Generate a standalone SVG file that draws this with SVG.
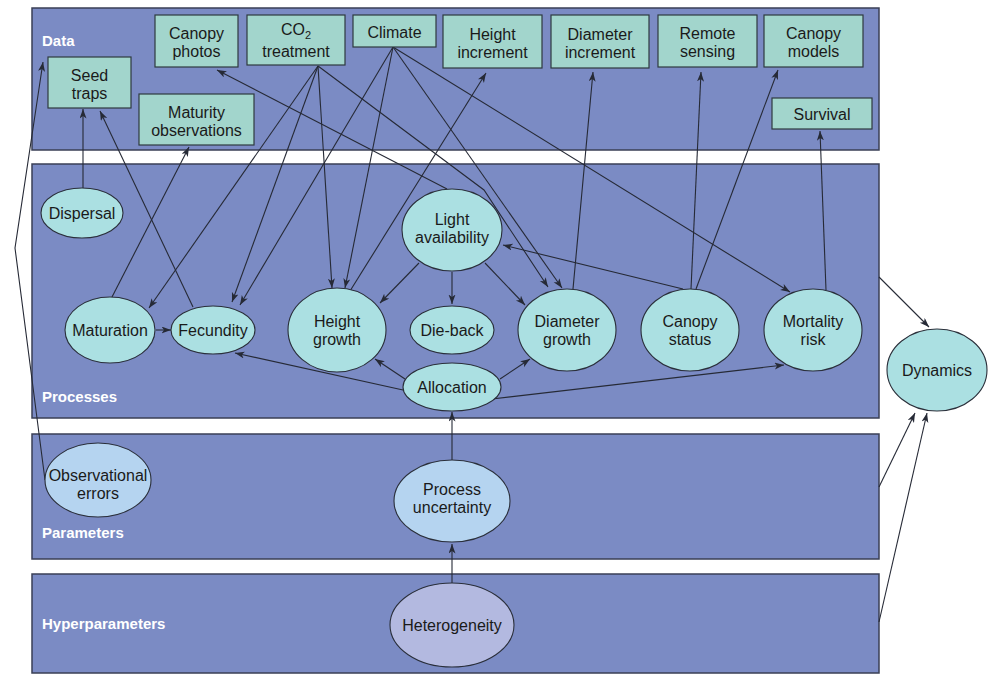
<svg xmlns="http://www.w3.org/2000/svg" width="1004" height="678" viewBox="0 0 1004 678">
<style>
.panel{fill:#7b8bc4;stroke:#3a3f55;stroke-width:1.5}
.plabel{font-family:"Liberation Sans",Arial,sans-serif;font-size:15px;font-weight:bold;fill:#ffffff}
.box{fill:#a2d5cc;stroke:#2e3a3e;stroke-width:1.2}
.ell{fill:#abe0e2;stroke:#2a2f3a;stroke-width:1.1}
.ellp{fill:#b5d4f0;stroke:#2a2f3a;stroke-width:1.1}
.ellh{fill:#b3b9e0;stroke:#2a2f3a;stroke-width:1.1}
.t{font-family:"Liberation Sans",Arial,sans-serif;font-size:16px;fill:#1a1a1a;text-anchor:middle}
.c{fill:none;stroke:#262a36;stroke-width:1.1;marker-end:url(#ah)}
</style>
<defs>
<marker id="ah" markerUnits="userSpaceOnUse" markerWidth="11" markerHeight="8" refX="9.5" refY="3.5" orient="auto">
<path d="M0,0 L9.5,3.5 L0,7 L2.5,3.5 z" fill="#262a36"/>
</marker>
</defs>
<rect width="1004" height="678" fill="#ffffff"/>
<g id="panels">
<rect class="panel" x="32" y="8" width="847" height="142"/>
<rect class="panel" x="32" y="164" width="847" height="254"/>
<rect class="panel" x="32" y="434" width="847" height="125"/>
<rect class="panel" x="32" y="574" width="847" height="99"/>
<text class="plabel" x="42" y="46">Data</text>
<text class="plabel" x="42" y="402">Processes</text>
<text class="plabel" x="42" y="538">Parameters</text>
<text class="plabel" x="42" y="629">Hyperparameters</text>
</g>
<g id="connectors">
<path class="c" d="M83,188 L83,109"/>
<path class="c" d="M193,307 L100,111"/>
<path class="c" d="M112,297 L189,147"/>
<path class="c" d="M318,66 L149,308"/>
<path class="c" d="M318,66 L232,302"/>
<path class="c" d="M318,66 L332,288"/>
<path class="c" d="M318,66 L484,190 L548,287"/>
<path class="c" d="M393,47 L240,305"/>
<path class="c" d="M393,47 L345,288"/>
<path class="c" d="M393,47 L562,288"/>
<path class="c" d="M393,47 L790,292"/>
<path class="c" d="M350,291 L486,73"/>
<path class="c" d="M447,189 L217,70"/>
<path class="c" d="M419,263 L380,303"/>
<path class="c" d="M452,272 L452,304"/>
<path class="c" d="M485,263 L525,305"/>
<path class="c" d="M683,289 L503,245"/>
<path class="c" d="M691,289 L701,72"/>
<path class="c" d="M696,289 L778,70"/>
<path class="c" d="M826,290 L820,131"/>
<path class="c" d="M573,289 L593,72"/>
<path class="c" d="M405,379 L375,359"/>
<path class="c" d="M500,379 L530,359"/>
<path class="c" d="M403,390 L235,353"/>
<path class="c" d="M492,399 L784,365"/>
<path class="c" d="M156,330 L171,330"/>
<path class="c" d="M452,460 L452,412"/>
<path class="c" d="M452,583 L452,544"/>
<path class="c" d="M45,480 L15,248 L43,62"/>
<path class="c" d="M879,277 L929,327"/>
<path class="c" d="M879,487 L915,413"/>
<path class="c" d="M879,622 L927,413"/>
</g>
<g id="seed-traps"><rect class="box" x="48" y="57" width="83" height="51"/><text class="t" x="89.5" y="80.5">Seed</text><text class="t" x="89.5" y="98.5">traps</text></g>
<g id="maturity-observations"><rect class="box" x="139" y="94" width="115" height="51"/><text class="t" x="196.5" y="117.5">Maturity</text><text class="t" x="196.5" y="135.5">observations</text></g>
<g id="canopy-photos"><rect class="box" x="155" y="15" width="83" height="52"/><text class="t" x="196.5" y="39">Canopy</text><text class="t" x="196.5" y="57">photos</text></g>
<g id="co2-treatment"><rect class="box" x="247" y="15" width="98" height="50"/><text class="t" x="296" y="35">CO<tspan dy="3.5" font-size="11">2</tspan></text><text class="t" x="296" y="57">treatment</text></g>
<g id="climate"><rect class="box" x="353" y="15" width="83" height="32"/><text class="t" x="394.5" y="38">Climate</text></g>
<g id="height-increment"><rect class="box" x="443" y="15" width="99" height="53"/><text class="t" x="492.5" y="39.5">Height</text><text class="t" x="492.5" y="57.5">increment</text></g>
<g id="diameter-increment"><rect class="box" x="551" y="15" width="98" height="53"/><text class="t" x="600" y="39.5">Diameter</text><text class="t" x="600" y="57.5">increment</text></g>
<g id="remote-sensing"><rect class="box" x="658" y="15" width="99" height="52"/><text class="t" x="707.5" y="39">Remote</text><text class="t" x="707.5" y="57">sensing</text></g>
<g id="canopy-models"><rect class="box" x="764" y="15" width="99" height="52"/><text class="t" x="813.5" y="39">Canopy</text><text class="t" x="813.5" y="57">models</text></g>
<g id="survival"><rect class="box" x="772" y="98" width="100" height="31"/><text class="t" x="822" y="119.5">Survival</text></g>
<g id="dispersal"><ellipse class="ell" cx="82" cy="213" rx="41" ry="25"/><text class="t" x="82" y="219">Dispersal</text></g>
<g id="maturation"><ellipse class="ell" cx="110" cy="330" rx="45" ry="33"/><text class="t" x="110" y="336">Maturation</text></g>
<g id="fecundity"><ellipse class="ell" cx="213" cy="330" rx="42" ry="24"/><text class="t" x="213" y="336">Fecundity</text></g>
<g id="height-growth"><ellipse class="ell" cx="337" cy="330" rx="49" ry="42"/><text class="t" x="337" y="327">Height</text><text class="t" x="337" y="345">growth</text></g>
<g id="light-availability"><ellipse class="ell" cx="452" cy="230" rx="50" ry="41"/><text class="t" x="452" y="225">Light</text><text class="t" x="452" y="243">availability</text></g>
<g id="die-back"><ellipse class="ell" cx="452" cy="330" rx="42" ry="24"/><text class="t" x="452" y="336">Die-back</text></g>
<g id="diameter-growth"><ellipse class="ell" cx="567" cy="330" rx="49" ry="41"/><text class="t" x="567" y="327">Diameter</text><text class="t" x="567" y="345">growth</text></g>
<g id="allocation"><ellipse class="ell" cx="452" cy="387" rx="49" ry="24"/><text class="t" x="452" y="393">Allocation</text></g>
<g id="canopy-status"><ellipse class="ell" cx="690" cy="330" rx="49" ry="41"/><text class="t" x="690" y="327">Canopy</text><text class="t" x="690" y="345">status</text></g>
<g id="mortality-risk"><ellipse class="ell" cx="813" cy="330" rx="49" ry="41"/><text class="t" x="813" y="327">Mortality</text><text class="t" x="813" y="345">risk</text></g>
<g id="dynamics"><ellipse class="ell" cx="937" cy="370" rx="50" ry="41"/><text class="t" x="937" y="375.5">Dynamics</text></g>
<g id="observational-errors"><ellipse class="ellp" cx="98" cy="480" rx="53" ry="37"/><text class="t" x="98" y="481">Observational</text><text class="t" x="98" y="499">errors</text></g>
<g id="process-uncertainty"><ellipse class="ellp" cx="452" cy="501" rx="58" ry="41"/><text class="t" x="452" y="495">Process</text><text class="t" x="452" y="513">uncertainty</text></g>
<g id="heterogeneity"><ellipse class="ellh" cx="452" cy="625" rx="62" ry="42"/><text class="t" x="452" y="631">Heterogeneity</text></g>
</svg>
